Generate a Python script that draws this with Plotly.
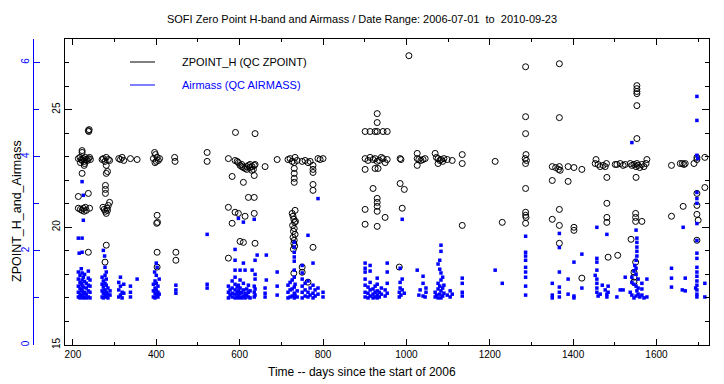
import plotly.graph_objects as go

# ---- data ----
# Zero point H-band: (day since start of 2006, ZPOINT_H)
zp_points = [
    (213,22.92),(217,22.97),(220,22.88),(222,22.84),(225,22.92),(227,22.80),(230,22.97),(232,22.88),
    (235,22.84),(237,22.92),(240,22.97),(242,22.88),(222,23.18),(222,23.26),(227,22.63),(222,22.29),
    (218,22.75),(228,22.71),(237,24.11),(238,24.07),(239,24.15),(213,21.31),(237,21.44),(213,20.81),
    (218,20.76),(222,20.72),(225,20.81),(227,20.68),(230,20.85),(232,20.72),(240,20.81),(237,18.94),
    (270,22.88),(273,22.92),(277,22.80),(280,22.97),(285,22.88),(288,22.84),(280,22.63),(283,22.37),
    (280,22.29),(278,21.78),(278,21.61),(278,21.44),(272,20.85),(275,20.76),(278,20.68),(282,20.81),
    (285,20.93),(288,21.06),(280,20.59),(283,20.72),(280,19.24),(277,18.52),
    (310,22.92),(314,22.88),(318,22.97),(322,22.84),(338,22.92),(354,22.88),
    (393,22.92),(396,23.18),(398,23.09),(400,22.80),(402,22.97),(405,22.84),(408,22.92),(397,22.75),
    (402,20.51),(401,20.17),(403,20.21),(402,18.94),(402,18.31),
    (444,22.97),(445,22.80),(447,18.94),(447,18.60),(522,23.18),(522,22.80),
    (590,24.03),(637,23.98),(573,22.92),(589,22.84),(594,22.80),(597,22.75),(601,22.63),(605,22.58),
    (609,22.54),(613,22.50),(617,22.58),(621,22.63),(625,22.54),(630,22.58),(635,22.63),(637,22.67),
    (633,22.46),(661,22.58),(690,22.88),(635,22.20),(582,22.16),(609,21.91),(621,21.27),(635,21.27),
    (573,20.85),(589,20.64),(597,20.59),(613,20.47),(635,20.59),(582,20.17),(601,19.40),(609,19.36),
    (637,19.32),(573,18.69),(605,22.67),(617,22.46),(625,22.67),(629,22.42),
    (716,22.88),(721,22.92),(726,22.80),(731,22.75),(733,22.97),(738,22.84),(731,22.50),(731,22.29),
    (731,22.08),(731,21.91),(750,22.80),(757,22.84),(764,22.75),(769,22.80),(776,22.63),(776,22.46),
    (776,22.33),(788,22.92),(793,22.88),(800,22.92),(776,21.82),(776,21.57),
    (726,20.59),(728,20.47),(730,20.34),(732,20.21),(727,20.08),(731,19.95),(729,19.83),(733,19.70),
    (728,19.57),(731,19.45),(730,19.32),(732,19.20),(729,19.07),(733,20.72),(734,20.25),
    (730,18.05),(750,18.31),(750,18.09),(764,17.67),(776,19.15),
    (930,24.83),(930,24.45),(901,24.07),(913,24.07),(925,24.07),(930,24.07),(944,24.07),(954,24.07),
    (901,22.92),(908,22.84),(913,22.97),(920,22.88),(925,22.92),(930,22.80),(935,22.84),(940,22.97),
    (944,22.92),(949,22.75),(954,22.88),(901,22.46),(925,22.50),(932,22.50),(920,21.65),(930,21.23),
    (930,21.06),(930,20.89),(930,20.68),(901,20.76),(949,20.42),(901,20.13),(930,20.04),
    (1006,27.29),(985,22.92),(987,22.88),(985,21.86),(995,21.61),(990,20.81),(983,18.31),
    (1026,23.14),(1026,22.92),(1030,22.88),(1035,22.84),(1040,22.88),(1045,22.92),(1026,22.63),
    (1069,23.14),(1072,22.97),(1076,22.92),(1080,22.84),(1083,22.88),(1087,22.80),(1090,22.92),
    (1098,22.88),(1076,22.71),(1110,22.84),
    (1134,23.09),(1134,22.71),(1134,20.08),(1213,22.80),(1230,20.21),
    (1286,26.82),(1286,24.70),(1286,23.98),(1287,23.09),(1285,22.92),(1288,22.84),(1286,22.71),
    (1286,21.65),(1286,20.64),(1286,20.51),(1287,20.42),(1286,20.17),
    (1367,26.95),(1367,24.66),(1350,22.58),(1358,22.54),(1365,22.46),(1367,22.58),(1369,22.42),
    (1350,21.99),(1367,20.76),(1350,20.34),(1367,20.08),(1367,19.32),
    (1388,22.58),(1388,21.95),(1402,22.54),(1402,20.00),(1402,19.87),(1421,22.46),(1421,17.84),
    (1453,22.71),(1455,22.88),(1460,22.67),(1465,22.58),(1472,22.63),(1477,22.58),(1480,22.71),
    (1481,22.12),(1481,21.02),(1481,20.42),(1481,20.21),(1484,18.73),(1501,22.67),
    (1505,22.67),(1513,22.71),(1520,22.63),(1525,22.67),(1507,18.81),
    (1553,26.02),(1553,25.89),(1553,25.77),(1553,25.68),(1553,25.17),(1553,23.77),(1537,22.71),
    (1541,22.63),(1546,22.67),(1551,22.58),(1553,22.71),(1556,22.63),(1560,22.54),(1565,22.67),
    (1570,22.58),(1575,22.71),(1577,22.88),(1551,22.12),(1550,20.59),(1550,20.42),(1550,20.25),
    (1565,20.25),(1539,19.49),(1550,18.52),(1546,18.09),(1546,17.88),(1546,17.67),
    (1636,22.63),(1636,20.47),(1657,22.71),(1662,22.71),(1666,22.67),(1669,22.71),(1664,20.89),
    (1690,22.71),(1697,22.97),(1697,22.88),(1697,21.44),(1697,20.93),(1697,20.55),(1700,20.30),
    (1697,19.45),(1716,22.97),(1716,21.69),
]

# Airmass: (day since start of 2006, AIRMASS)
am_points = [
    (222,3.47),(225,3.18),(225,2.65),(213,2.27),(222,2.27),(215,1.95),(222,1.97),
    (213,1.02),(213,1.12),(213,1.25),(213,1.40),(213,1.55),(217,1.00),(217,1.08),(217,1.20),
    (217,1.33),(217,1.48),(220,1.02),(220,1.15),(220,1.30),(220,1.62),(222,1.05),(222,1.17),
    (222,1.27),(222,1.38),(222,1.53),(225,1.00),(225,1.10),(225,1.23),(225,1.44),(228,1.02),
    (228,1.12),(228,1.35),(228,1.50),(232,1.00),(232,1.08),(232,1.21),(232,1.31),(237,1.02),
    (237,1.15),(237,1.27),(237,1.42),(237,1.57),(241,1.00),(241,1.12),(241,1.25),(241,1.38),
    (273,2.01),(276,1.89),(277,1.65),(277,1.48),(270,1.02),(270,1.15),(270,1.29),(270,1.44),
    (273,1.00),(273,1.10),(273,1.23),(273,1.36),(277,1.05),(277,1.17),(277,1.31),(280,1.02),
    (280,1.12),(280,1.27),(280,1.40),(280,1.55),(284,1.00),(284,1.08),(284,1.21),(289,1.06),(289,1.15),
    (310,1.02),(310,1.17),(310,1.33),(314,1.06),(314,1.25),(314,1.44),(318,1.00),(318,1.12),
    (322,1.10),(322,1.29),(338,1.02),(338,1.12),(338,1.25),(354,1.40),
    (400,1.74),(402,1.65),(396,1.55),(393,1.02),(393,1.15),(393,1.29),(397,1.00),(397,1.10),
    (397,1.21),(397,1.36),(400,1.05),(400,1.17),(400,1.31),(400,1.48),(404,1.02),(404,1.12),
    (404,1.25),(407,1.08),(407,1.40),
    (447,1.27),(447,1.17),(447,1.10),(522,2.35),(522,1.29),(522,1.21),
    (597,2.69),(609,2.61),(635,2.67),(589,2.03),(589,1.80),(609,1.74),(642,1.91),(664,1.91),
    (637,1.80),(589,1.59),(601,1.59),(613,1.59),(630,1.59),(637,1.50),(637,1.40),(664,1.38),
    (690,1.55),(690,1.25),(690,1.06),
    (573,1.00),(573,1.12),(573,1.25),(577,1.06),(577,1.17),(582,1.02),(582,1.10),(582,1.21),
    (582,1.36),(589,1.00),(589,1.08),(589,1.17),(589,1.29),(589,1.44),(594,1.02),(594,1.12),
    (594,1.23),(597,1.00),(597,1.06),(597,1.15),(597,1.27),(601,1.02),(601,1.10),(601,1.21),
    (601,1.38),(605,1.00),(605,1.12),(609,1.04),(609,1.17),(609,1.31),(613,1.00),(613,1.10),
    (617,1.06),(617,1.19),(621,1.02),(621,1.12),(621,1.27),(625,1.00),(625,1.15),(635,1.02),
    (635,1.12),(635,1.25),(637,1.06),(637,1.19),(661,1.02),(661,1.10),(661,1.21),
    (788,3.11),(764,2.33),(731,2.18),(731,2.08),(731,1.97),(731,1.87),(731,1.78),(776,1.74),
    (750,1.69),(750,1.53),
    (716,1.00),(716,1.12),(716,1.27),(721,1.02),(721,1.17),(721,1.33),(726,1.04),(726,1.19),
    (726,1.38),(731,1.00),(731,1.10),(731,1.23),(731,1.44),(731,1.59),(733,1.06),(733,1.29),
    (738,1.02),(738,1.15),(750,1.00),(750,1.12),(750,1.25),(750,1.40),(757,1.04),(757,1.17),
    (757,1.31),(764,1.02),(764,1.12),(764,1.36),(769,1.06),(769,1.21),(776,1.00),(776,1.10),
    (776,1.27),(781,1.04),(781,1.17),(788,1.08),(788,1.21),(800,1.02),(800,1.12),
    (901,1.74),(901,1.63),(901,1.55),(913,1.69),(913,1.57),(954,1.74),(954,1.55),
    (901,1.02),(901,1.12),(901,1.27),(901,1.40),(908,1.00),(908,1.10),(908,1.23),(913,1.04),
    (913,1.17),(913,1.33),(920,1.00),(920,1.08),(920,1.19),(925,1.02),(925,1.12),(925,1.25),
    (930,1.00),(930,1.06),(930,1.15),(930,1.29),(930,1.42),(935,1.02),(935,1.12),(940,1.08),
    (940,1.21),(949,1.04),(949,1.17),(954,1.10),(954,1.31),
    (990,2.67),(985,1.63),(983,1.02),(983,1.12),(985,1.21),(985,1.33),(987,1.06),(990,1.17),
    (990,1.40),(995,1.10),
    (1026,1.59),(1040,1.46),(1040,1.31),(1047,1.21),(1047,1.12),(1040,1.04),(1045,1.02),
    (1030,1.06),(1033,1.17),
    (1083,2.12),(1083,1.99),(1080,1.80),(1076,1.72),(1080,1.61),(1083,1.53),(1087,1.44),
    (1069,1.02),(1069,1.12),(1072,1.06),(1076,1.00),(1076,1.19),(1076,1.31),(1080,1.08),
    (1080,1.25),(1083,1.00),(1083,1.15),(1083,1.38),(1087,1.04),(1087,1.21),(1090,1.10),
    (1090,1.27),(1098,1.06),(1105,1.02),(1105,1.15),(1110,1.08),
    (1134,1.42),(1134,1.31),(1134,1.12),(1134,1.04),(1213,1.59),(1230,1.31),
    (1286,2.31),(1286,1.97),(1286,1.89),(1286,1.80),(1286,1.65),(1286,1.55),(1286,1.44),
    (1286,1.25),(1286,1.06),
    (1367,2.37),(1367,2.07),(1367,1.55),(1350,1.31),(1367,1.23),(1367,1.12),(1367,1.02),
    (1350,1.06),(1350,1.00),
    (1388,1.40),(1388,1.08),(1402,1.76),(1402,1.04),(1402,1.00),(1421,1.93),(1421,1.21),
    (1457,2.50),(1481,2.35),(1457,1.84),(1457,1.76),(1457,1.59),(1453,1.48),(1457,1.40),
    (1457,1.31),(1457,1.21),(1457,1.12),(1460,1.04),(1465,1.08),(1470,1.27),(1477,1.17),
    (1481,1.08),(1481,1.02),(1484,1.12),(1484,1.25),
    (1505,1.02),(1513,1.17),(1520,1.17),(1525,1.44),
    (1541,4.30),(1551,2.44),(1553,2.27),(1553,2.18),(1553,2.08),(1553,1.99),(1553,1.89),
    (1551,1.80),(1548,1.69),(1551,1.63),(1546,1.57),(1551,1.50),(1541,1.44),(1556,1.40),
    (1541,1.33),(1546,1.29),(1551,1.25),(1556,1.21),(1537,1.12),(1541,1.06),(1546,1.00),
    (1551,1.04),(1553,1.15),(1556,1.08),(1560,1.02),(1565,1.31),(1565,1.19),(1565,1.06),
    (1570,1.00),(1577,1.40),(1577,1.02),
    (1636,1.63),(1636,1.42),(1636,1.23),(1664,2.50),(1669,1.42),(1662,1.17),(1669,1.15),
    (1697,5.28),(1697,4.77),(1697,4.03),(1699,3.96),(1697,3.24),(1697,3.11),(1697,3.01),
    (1697,2.58),(1697,2.22),(1697,1.95),(1697,1.84),(1697,1.65),(1697,1.55),(1697,1.46),
    (1697,1.36),(1697,1.27),(1694,1.21),(1697,1.17),(1697,1.08),(1697,1.02),(1716,1.31),(1716,1.02),
]

zp_days = [p[0] for p in zp_points]
zp_values = [p[1] for p in zp_points]
am_days = [p[0] for p in am_points]
am_values = [p[1] for p in am_points]

title_text = "SOFI Zero Point H-band and Airmass / Date Range: 2006-07-01  to  2010-09-23"
x_title = "Time -- days since the start of 2006"
y_title = "ZPOINT_H_and_Airmass"
legend_labels = ["ZPOINT_H (QC ZPOINT)", "Airmass (QC AIRMASS)"]

FONT = "Liberation Sans"
BLUE = "#0000ff"

fig = go.Figure()
fig.add_trace(go.Scatter(
    x=zp_days, y=zp_values, mode="markers", yaxis="y",
    marker=dict(symbol="circle-open", size=6, color="black", line=dict(width=1, color="black")),
    showlegend=False, name=legend_labels[0]))
fig.add_trace(go.Scatter(
    x=am_days, y=am_values, mode="markers", yaxis="y2",
    marker=dict(symbol="square", size=3.5, color=BLUE, line=dict(width=0)),
    showlegend=False, name=legend_labels[1]))

L, R, T, B = 33, 15, 39, 39
W, H = 724, 384
pw = W - L - R
ph = H - T - B
def px(xp):
    return (xp - L) / pw
def py(yp):
    return (H - B - yp) / ph

fig.update_layout(
    width=W, height=H,
    margin=dict(l=L, r=R, t=T, b=B, pad=0),
    paper_bgcolor="white", plot_bgcolor="white",
    font=dict(family=FONT, size=10, color="black"),
    title=dict(text=title_text, x=0.5, xanchor="center", y=1 - 19 / H, yanchor="middle",
               font=dict(family=FONT, size=11, color="black")),
    xaxis=dict(
        domain=[px(65), 1], range=[181, 1726], showgrid=False, zeroline=False,
        showline=True, linecolor="black", linewidth=1, mirror="ticks",
        ticks="inside", ticklen=6, tickcolor="black", tick0=0, dtick=200,
        minor=dict(dtick=100, ticks="inside", ticklen=3, tickcolor="black", showgrid=False),
        tickfont=dict(family=FONT, size=10, color="black"),
        automargin=False,
    ),
    yaxis=dict(
        anchor="x", range=[15, 28], showgrid=False, zeroline=False,
        showline=True, linecolor="black", linewidth=1, mirror="ticks",
        ticks="inside", ticklen=7, tickcolor="black", tick0=0, dtick=5, tickangle=-90,
        minor=dict(dtick=1, ticks="inside", ticklen=4, tickcolor="black", showgrid=False),
        tickfont=dict(family=FONT, size=10, color="black"),
        automargin=False,
    ),
    yaxis2=dict(
        overlaying="y", anchor="free", position=0, side="left",
        range=[0, 6.5], showgrid=False, zeroline=False,
        showline=True, linecolor=BLUE, linewidth=1,
        ticks="inside", ticklen=6, tickcolor=BLUE, tick0=0, dtick=2, tickangle=-90,
        minor=dict(dtick=1, ticks="inside", ticklen=5, tickcolor=BLUE, showgrid=False),
        tickfont=dict(family=FONT, size=10, color=BLUE),
        automargin=False,
    ),
    shapes=[
        dict(type="line", xref="paper", yref="paper", x0=px(130), x1=px(155), y0=py(62), y1=py(62),
             line=dict(color="black", width=1)),
        dict(type="line", xref="paper", yref="paper", x0=px(130), x1=px(155), y0=py(85), y1=py(85),
             line=dict(color=BLUE, width=1)),
    ],
    annotations=[
        dict(text=legend_labels[0], xref="paper", yref="paper", x=px(180), y=py(62),
             xanchor="left", yanchor="middle", showarrow=False,
             font=dict(family=FONT, size=11, color="black")),
        dict(text=legend_labels[1], xref="paper", yref="paper", x=px(180), y=py(85),
             xanchor="left", yanchor="middle", showarrow=False,
             font=dict(family=FONT, size=11, color=BLUE)),
        dict(text=x_title, xref="paper", yref="paper", x=px(362), y=py(372),
             xanchor="center", yanchor="middle", showarrow=False,
             font=dict(family=FONT, size=12, color="black")),
        dict(text=y_title, xref="paper", yref="paper", x=px(17), y=py(211), textangle=-90,
             xanchor="center", yanchor="middle", showarrow=False,
             font=dict(family=FONT, size=12.5, color="black")),
    ],
)

fig.write_html("out.html", config={"displayModeBar": False},
               post_script="document.body.style.margin='0px';")
